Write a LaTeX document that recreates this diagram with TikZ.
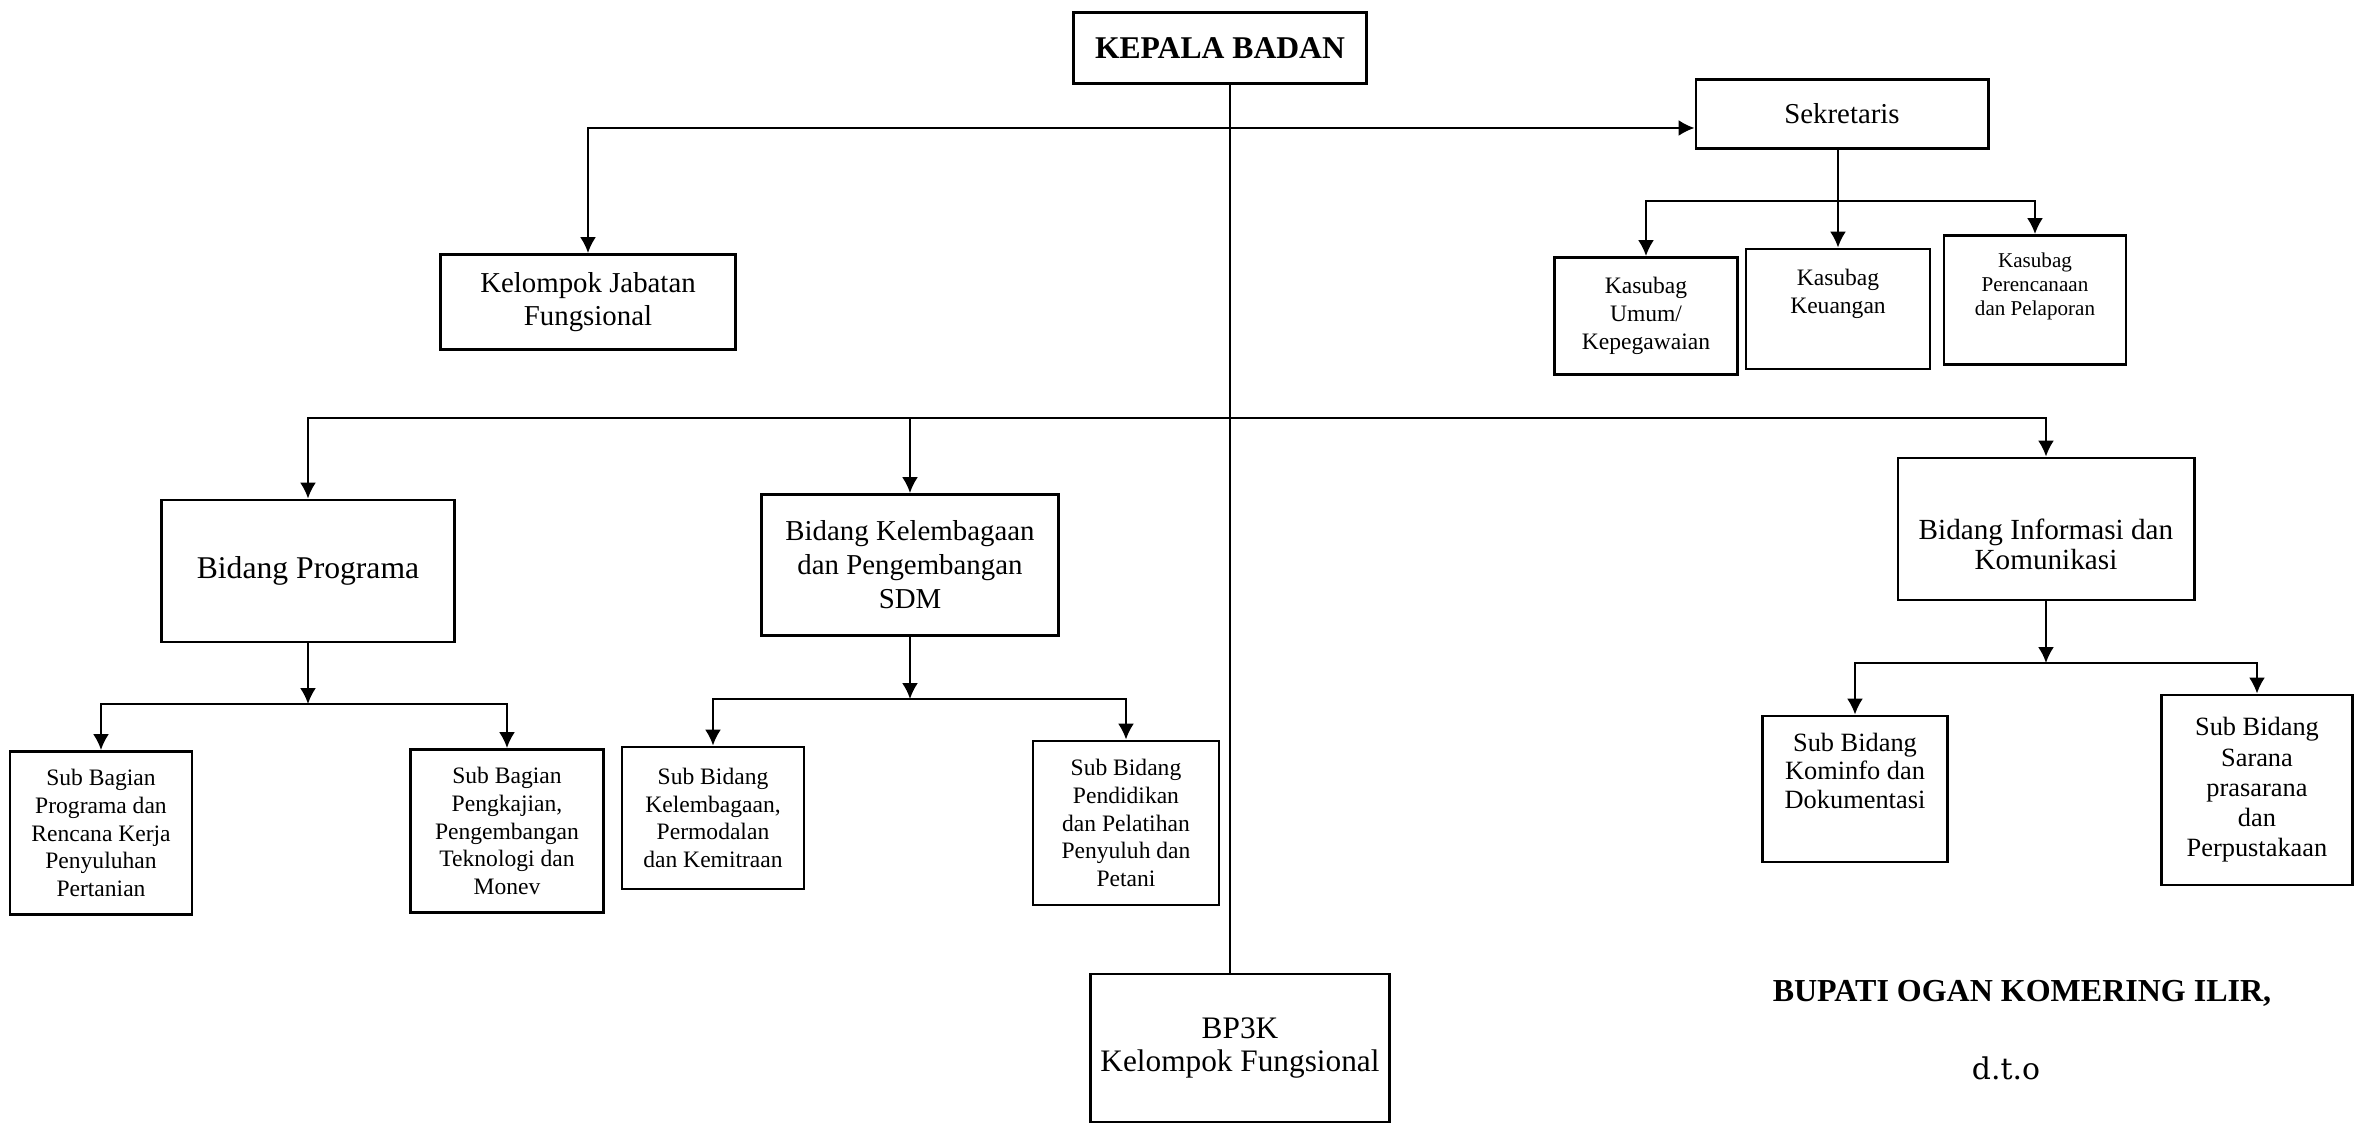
\documentclass[tikz,border=0pt]{standalone}
\usepackage{fontspec}
\setmainfont{Liberation Serif}
\newfontfamily\dtofont{DejaVu Serif}
\usetikzlibrary{arrows.meta}

\begin{document}
\begin{tikzpicture}[x=0.01cm, y=-0.01cm, >={Latex[length=4.5pt,width=4.5pt]},
  unit/.style={draw, line width=0.8pt, align=center, inner sep=1pt, font=\fontsize{8.2}{9.6}\selectfont},
  sub/.style={unit, font=\fontsize{6.7}{7.9}\selectfont},
  link/.style={line width=0.6pt}]
\useasboundingbox (0,0) rectangle (2368,1125);

% pimpinan dan sekretariat
\node[unit, font=\fontsize{9}{10.6}\selectfont\bfseries, minimum width=2.93cm, minimum height=0.71cm] (kepala) at (1220,48) {KEPALA BADAN};
\node[unit, minimum width=2.92cm, minimum height=0.69cm] (sek) at (1842,114) {Sekretaris};
\node[unit, font=\fontsize{8.2}{9.4}\selectfont, minimum width=2.95cm, minimum height=0.95cm] (jab) at (588,302) {Kelompok Jabatan\\Fungsional};
\node[sub, minimum width=1.83cm, minimum height=1.17cm] (umum) at (1646,316) {Kasubag\\Umum/\\Kepegawaian};
\node[sub, minimum width=1.84cm, minimum height=1.20cm] (keu) at (1838,309) {Kasubag\\Keuangan\\\strut};
\node[sub, font=\fontsize{6}{6.9}\selectfont, minimum width=1.82cm, minimum height=1.29cm] (ren) at (2035,300) {Kasubag\\Perencanaan\\dan Pelaporan\\\strut};

% bidang
\node[unit, font=\fontsize{9}{10.6}\selectfont, minimum width=2.93cm, minimum height=1.42cm] (prog) at (308,571) {Bidang Programa};
\node[unit, font=\fontsize{8.2}{9.7}\selectfont, minimum width=2.97cm, minimum height=1.41cm] (kel) at (910,565) {Bidang Kelembagaan\\dan Pengembangan\\SDM};
\node[unit, font=\fontsize{8.3}{8.6}\selectfont, minimum width=2.96cm, minimum height=1.42cm] (info) at (2046,529) {\strut\\Bidang Informasi dan\\Komunikasi};

% sub bagian / sub bidang
\node[sub, minimum width=1.82cm, minimum height=1.63cm] (sbprog) at (101,833) {Sub Bagian\\Programa dan\\Rencana Kerja\\Penyuluhan\\Pertanian};
\node[sub, minimum width=1.93cm, minimum height=1.63cm] (sbkaji) at (507,831) {Sub Bagian\\Pengkajian,\\Pengembangan\\Teknologi dan\\Monev};
\node[sub, minimum width=1.82cm, minimum height=1.42cm] (sbkel) at (713,818) {Sub Bidang\\Kelembagaan,\\Permodalan\\dan Kemitraan};
\node[sub, minimum width=1.86cm, minimum height=1.64cm] (sbdik) at (1126,823) {Sub Bidang\\Pendidikan\\dan Pelatihan\\Penyuluh dan\\Petani};
\node[sub, font=\fontsize{7.5}{8.1}\selectfont, minimum width=1.85cm, minimum height=1.46cm] (sbkom) at (1855,789) {Sub Bidang\\Kominfo dan\\Dokumentasi\\\strut};
\node[sub, font=\fontsize{7.5}{8.6}\selectfont, minimum width=1.91cm, minimum height=1.90cm] (sbsar) at (2257,790) {Sub Bidang\\Sarana\\prasarana\\dan\\Perpustakaan};

\node[unit, font=\fontsize{8.9}{9.4}\selectfont, minimum width=2.99cm, minimum height=1.48cm] (bp3k) at (1240,1048) {BP3K\\Kelompok Fungsional};

% pengesahan
\node[font=\fontsize{9.1}{11}\selectfont\bfseries] (bupati) at (2022,993) {BUPATI OGAN KOMERING ILIR,};
\node[font=\fontsize{8.5}{10}\selectfont\dtofont] (dto) at (2006,1068) {d.t.o};

% garis komando
\coordinate (spine) at (1230,0);
\coordinate (l1) at (1230,128);
\coordinate (l2) at (1230,418);
\draw[line width=0.5pt] (spine |- kepala.south) -- (spine |- bp3k.north);
\draw[link,->] (l1) -| (jab.north);
\draw[link,->] (l1) -- (l1 -| sek.west);
\draw[link,->] (l2) -| (prog.north);
\draw[link,->] (l2) -| (info.north);
\draw[link,->] (kel.north |- l2) -- (kel.north);

\coordinate (b1) at (1838,201);
\draw[link,->] (sek.south -| keu.north) -- (keu.north);
\draw[link,->] (b1) -| (umum.north);
\draw[link,->] (b1) -| (ren.north);

\coordinate (b2) at (308,704);
\draw[link,->] (prog.south) -- (b2);
\draw[link,->] (b2) -| (sbprog.north);
\draw[link,->] (b2) -| (sbkaji.north);

\coordinate (b3) at (910,699);
\draw[link,->] (kel.south) -- (b3);
\draw[link,->] (b3) -| (sbkel.north);
\draw[link,->] (b3) -| (sbdik.north);

\coordinate (b4) at (2046,663);
\draw[link,->] (info.south) -- (b4);
\draw[link,->] (b4) -| (sbkom.north);
\draw[link,->] (b4) -| (sbsar.north);
\end{tikzpicture}
\end{document}
